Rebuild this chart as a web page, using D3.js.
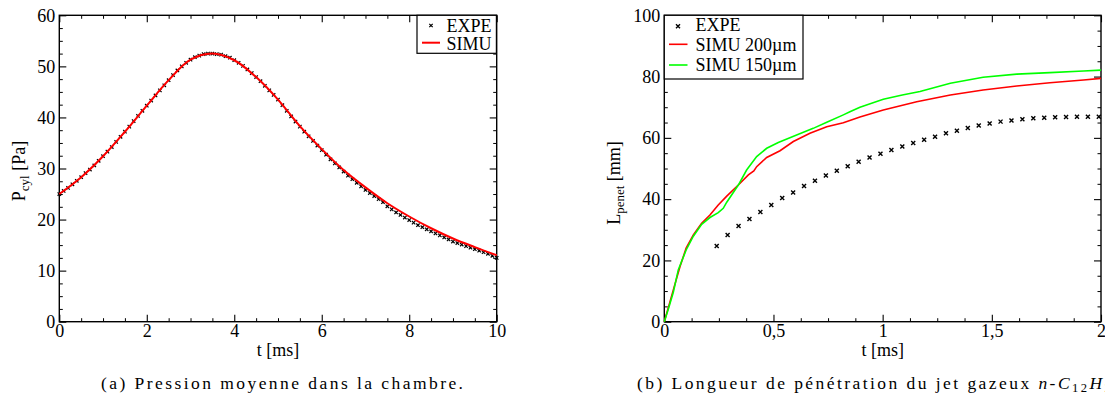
<!DOCTYPE html>
<html><head><meta charset="utf-8">
<script src="https://cdn.jsdelivr.net/npm/d3@7"></script>
<style>
html,body{margin:0;padding:0;background:#fff;overflow:hidden}
svg{display:block}
</style></head>
<body>
<svg id="c" width="1105" height="405"></svg>
<script>
// ---------- Panel (a) data ----------
const pTimes = d3.range(0, 101).map(i => i / 10);
const pExpe = [25.0,25.6,26.2,26.9,27.6,28.3,29.1,29.8,30.6,31.5,
  32.4,33.3,34.2,35.2,36.2,37.2,38.2,39.3,40.3,41.3,
  42.3,43.3,44.3,45.3,46.3,47.3,48.3,49.2,50.0,50.7,
  51.3,51.8,52.1,52.4,52.5,52.5,52.4,52.3,52.0,51.7,
  51.2,50.7,50.1,49.4,48.7,47.9,47.1,46.2,45.3,44.4,
  43.5,42.4,41.3,40.2,39.2,38.2,37.2,36.3,35.4,34.5,
  33.6,32.7,31.8,31.0,30.2,29.4,28.6,27.9,27.2,26.5,
  25.8,25.2,24.6,24.0,23.4,22.6,22.0,21.4,20.9,20.4,
  19.9,19.4,18.9,18.5,18.1,17.7,17.3,16.9,16.5,16.1,
  15.7,15.4,15.1,14.8,14.5,14.2,13.9,13.6,13.3,12.9,12.5];
const pSimuT = [0,0.5,1,1.5,2,2.5,3,3.5,4,4.5,5,5.5,6,6.5,7,7.5,8,8.5,9,9.5,10];
const pSimu  = [25.0,28.3,32.4,37.2,42.3,47.3,51.3,52.5,51.2,47.9,43.5,38.3,33.8,29.7,26.3,23.2,20.6,18.3,16.3,14.6,13.0];
const pXTicks = [0,2,4,6,8,10];
const pYTicks = [0,10,20,30,40,50,60];

// ---------- Panel (b) data ----------
const lExpeT = d3.range(0, 36).map(i => +(0.24 + 0.05 * i).toFixed(2));
const lExpe = [24.7,28.3,31.2,33.5,35.8,38.1,40.4,42.2,44.3,46.0,
  47.7,49.3,50.7,52.2,53.6,54.8,56.0,57.2,58.3,59.4,
  60.4,61.5,62.3,63.2,64.0,64.7,65.3,65.7,66.1,66.4,
  66.6,66.7,66.8,66.9,66.9,66.9];
const s200T = [0,0.02,0.041,0.072,0.10,0.133,0.171,0.209,0.247,0.286,0.339,0.385,0.41,0.423,0.469,0.53,0.591,0.667,0.744,0.82,0.896,1.003,1.156,1.31,1.46,1.614,1.766,1.92,2.0];
const s200  = [0,5.0,10.3,18.0,24.0,28.3,32.1,34.8,38.1,41.0,44.6,47.9,49.2,50.6,53.6,55.8,58.8,61.5,63.6,64.9,66.8,69.1,71.8,74.0,75.6,76.9,78.0,78.9,79.4];
const s150T = [0,0.02,0.041,0.064,0.10,0.133,0.171,0.209,0.247,0.27,0.286,0.339,0.377,0.423,0.469,0.522,0.606,0.682,0.744,0.82,0.85,0.896,1.003,1.09,1.171,1.31,1.46,1.614,1.766,1.92,2.0];
const s150  = [0,4.5,9.5,16.9,23.4,27.9,31.8,34.0,35.6,37.0,39.0,44.6,49.5,53.9,56.6,58.5,60.9,63.1,65.1,67.5,68.5,70.0,72.6,74.0,75.1,77.8,79.8,80.8,81.3,81.8,82.1];
const lXTicks = [0,0.5,1,1.5,2];
const lYTicks = [0,20,40,60,80,100];

// ---------- font detection ----------
const cv = document.createElement("canvas").getContext("2d");
function has(f){
  const s = "EXPE 0123456789 mwil";
  cv.font = "40px monospace"; const a = cv.measureText(s).width;
  cv.font = `40px "${f}", monospace`; const b = cv.measureText(s).width;
  cv.font = "40px sans-serif"; const c = cv.measureText(s).width;
  cv.font = `40px "${f}", sans-serif`; const d = cv.measureText(s).width;
  return a !== b || c !== d;
}
const cands = ["Liberation Serif","Tinos","Times New Roman","Nimbus Roman","DejaVu Serif"];
const FF = cands.find(has) || "serif";
const FAM = `"${FF}", serif`;
cv.font = `18px ${FAM}`;
const k = Math.min(1, 45 / cv.measureText("EXPE").width);
const FS = 18 * k, FSsub = 13 * k;

const svg = d3.select("#c").style("font-family", FAM);
const fmtComma = d => String(d).replace(".", ",");
function crossPath(s){ return `M${-s},${-s}L${s},${s}M${-s},${s}L${s},${-s}`; }

function panel(opt){
  const g = svg.append("g");
  const x = d3.scaleLinear().domain(opt.xd).range([opt.x0, opt.x1]);
  const y = d3.scaleLinear().domain(opt.yd).range([opt.y1, opt.y0]);
  const MAJ = 7, MIN = 3.5;
  const W = opt.x1 - opt.x0, H = opt.y1 - opt.y0;
  const axes = [
    [d3.axisBottom, x, opt.xMinor, `translate(0,${opt.y1})`],
    [d3.axisTop, x, opt.xMinor, `translate(0,${opt.y0})`],
    [d3.axisLeft, y, opt.yMinor, `translate(${opt.x0},0)`],
    [d3.axisRight, y, opt.yMinor, `translate(${opt.x1},0)`]
  ];
  axes.forEach(([fn, sc, mv, tr]) => {
    g.append("g").attr("transform", tr)
      .call(fn(sc).tickValues(mv).tickSize(-MIN).tickSizeOuter(0).tickFormat(""))
      .call(a => a.select(".domain").remove())
      .call(a => a.selectAll("line").attr("stroke", "#000").attr("stroke-width", 1));
  });
  const majors = [
    [d3.axisBottom, x, opt.xTicks, `translate(0,${opt.y1})`, true, "x"],
    [d3.axisTop, x, opt.xTicks, `translate(0,${opt.y0})`, false, "x"],
    [d3.axisLeft, y, opt.yTicks, `translate(${opt.x0},0)`, true, "y"],
    [d3.axisRight, y, opt.yTicks, `translate(${opt.x1},0)`, false, "y"]
  ];
  majors.forEach(([fn, sc, tv, tr, lab, kk]) => {
    const ax = fn(sc).tickValues(tv).tickSize(-MAJ).tickSizeOuter(0)
      .tickPadding(kk === "x" ? 3 : 4)
      .tickFormat(lab ? (kk === "x" ? opt.xFmt : opt.yFmt) : "");
    g.append("g").attr("transform", tr).call(ax)
      .attr("font-family", null).attr("font-size", null)
      .call(a => a.select(".domain").remove())
      .call(a => a.selectAll("line").attr("stroke", "#000").attr("stroke-width", 1.1))
      .call(a => a.selectAll("text").style("font-family", FAM)
        .style("font-size", FS + "px").attr("fill", "#000"));
  });
  g.append("rect").attr("x", opt.x0).attr("y", opt.y0).attr("width", W).attr("height", H)
    .attr("fill", "none").attr("stroke", "#000").attr("stroke-width", 1.4);
  return {g, x, y};
}

// ---------- Panel (a) ----------
const A = panel({xd:[0,10], yd:[0,60], x0:59.3, x1:496.7, y0:15.3, y1:321.7,
  xTicks:pXTicks, yTicks:pYTicks,
  xMinor:d3.range(0,10.01,0.5).filter(v=>v%2!==0),
  yMinor:d3.range(0,60.01,2.5).filter(v=>v%10!==0),
  xFmt:d=>d, yFmt:d=>d});
A.g.append("g").selectAll("path").data(pTimes).join("path")
  .attr("d", crossPath(1.7))
  .attr("transform", (d,i) => `translate(${A.x(d)},${A.y(pExpe[i])})`)
  .attr("stroke", "#000").attr("stroke-width", 1.2).attr("fill", "none");
A.g.append("path").datum(pSimuT.map((t,i)=>[t,pSimu[i]]))
  .attr("d", d3.line().x(d=>A.x(d[0])).y(d=>A.y(d[1])).curve(d3.curveCatmullRom))
  .attr("fill","none").attr("stroke","#ff0000").attr("stroke-width",2);
const la = A.g.append("g");
la.append("rect").attr("x",417).attr("y",15.3).attr("width",79.4).attr("height",38)
  .attr("fill","#fff").attr("stroke","#000").attr("stroke-width",1.2);
la.append("path").attr("d",crossPath(1.7)).attr("transform","translate(431,25.5)")
  .attr("stroke","#000").attr("stroke-width",1.2);
la.append("text").attr("x",446.5).attr("y",31.5).style("font-size",FS+"px").text("EXPE");
la.append("line").attr("x1",422).attr("x2",440).attr("y1",42.7).attr("y2",42.7)
  .attr("stroke","#ff0000").attr("stroke-width",2);
la.append("text").attr("x",446.5).attr("y",49.5).style("font-size",FS+"px").text("SIMU");
svg.append("text").attr("x",278).attr("y",356).attr("text-anchor","middle")
  .style("font-size",FS+"px").text("t [ms]");
const ya = svg.append("text").attr("transform","translate(25,171) rotate(-90)")
  .attr("text-anchor","middle").style("font-size",FS+"px");
ya.append("tspan").text("P");
ya.append("tspan").attr("baseline-shift","-28%").style("font-size",FSsub+"px").text("cyl");
ya.append("tspan").text(" [Pa]");

// ---------- Panel (b) ----------
const B = panel({xd:[0,2], yd:[0,100], x0:664.3, x1:1101, y0:15.3, y1:321.7,
  xTicks:lXTicks, yTicks:lYTicks,
  xMinor:d3.range(0,2.001,0.125).filter(v=>Math.abs(v*2-Math.round(v*2))>1e-6),
  yMinor:d3.range(0,100.01,5).filter(v=>v%20!==0),
  xFmt:fmtComma, yFmt:d=>d});
const line = d3.line().x(d=>B.x(d[0])).y(d=>B.y(d[1]));
B.g.append("path").datum(s200T.map((t,i)=>[t,s200[i]])).attr("d",line)
  .attr("fill","none").attr("stroke","#ff0000").attr("stroke-width",1.6);
B.g.append("path").datum(s150T.map((t,i)=>[t,s150[i]])).attr("d",line)
  .attr("fill","none").attr("stroke","#00ff00").attr("stroke-width",1.6);
B.g.append("g").selectAll("path").data(lExpeT).join("path")
  .attr("d", crossPath(2))
  .attr("transform", (d,i) => `translate(${B.x(d)},${B.y(lExpe[i])})`)
  .attr("stroke", "#000").attr("stroke-width", 1.4).attr("fill", "none");
const lb = B.g.append("g");
lb.append("rect").attr("x",664.3).attr("y",15.3).attr("width",138.7).attr("height",63.7)
  .attr("fill","#fff").attr("stroke","#000").attr("stroke-width",1.2);
lb.append("path").attr("d",crossPath(2)).attr("transform","translate(678,26.3)")
  .attr("stroke","#000").attr("stroke-width",1.4);
lb.append("text").attr("x",695.5).attr("y",31).style("font-size",FS+"px").text("EXPE");
lb.append("line").attr("x1",669).attr("x2",687.5).attr("y1",44.3).attr("y2",44.3)
  .attr("stroke","#ff0000").attr("stroke-width",1.6);
lb.append("text").attr("x",695.5).attr("y",50.5).style("font-size",FS+"px").text("SIMU 200µm");
lb.append("line").attr("x1",669).attr("x2",687.5).attr("y1",65).attr("y2",65)
  .attr("stroke","#00ff00").attr("stroke-width",1.6);
lb.append("text").attr("x",695.5).attr("y",71).style("font-size",FS+"px").text("SIMU 150µm");
svg.append("text").attr("x",882.7).attr("y",356).attr("text-anchor","middle")
  .style("font-size",FS+"px").text("t [ms]");
const yb = svg.append("text").attr("transform","translate(620,183) rotate(-90)")
  .attr("text-anchor","middle").style("font-size",FS+"px");
yb.append("tspan").text("L");
yb.append("tspan").attr("baseline-shift","-28%").style("font-size",FSsub+"px").text("penet");
yb.append("tspan").text(" [mm]");

// ---------- Captions ----------
const CFS = 17.5;
const txtA = "(a) Pression moyenne dans la chambre.";
const capA = svg.append("text").attr("x",101).attr("y",389).style("font-size",CFS+"px").text(txtA);
const wA = capA.node().getComputedTextLength();
const ls = Math.max(0, (362 - wA) / (txtA.length - 1));
capA.style("letter-spacing", ls + "px");
const capB = svg.append("text").attr("x",637).attr("y",389).style("font-size",CFS+"px")
  .style("letter-spacing", ls + "px");
capB.append("tspan").text("(b) Longueur de pénétration du jet gazeux ");
capB.append("tspan").style("font-style","italic").text("n");
capB.append("tspan").text("-");
capB.append("tspan").style("font-style","italic").text("C");
capB.append("tspan").attr("baseline-shift","-25%").style("font-size",(CFS*0.72)+"px").text("12");
capB.append("tspan").style("font-style","italic").text("H");
capB.append("tspan").attr("baseline-shift","-25%").style("font-size",(CFS*0.72)+"px").text("26");
capB.append("tspan").text(".");
</script>
</body></html>
